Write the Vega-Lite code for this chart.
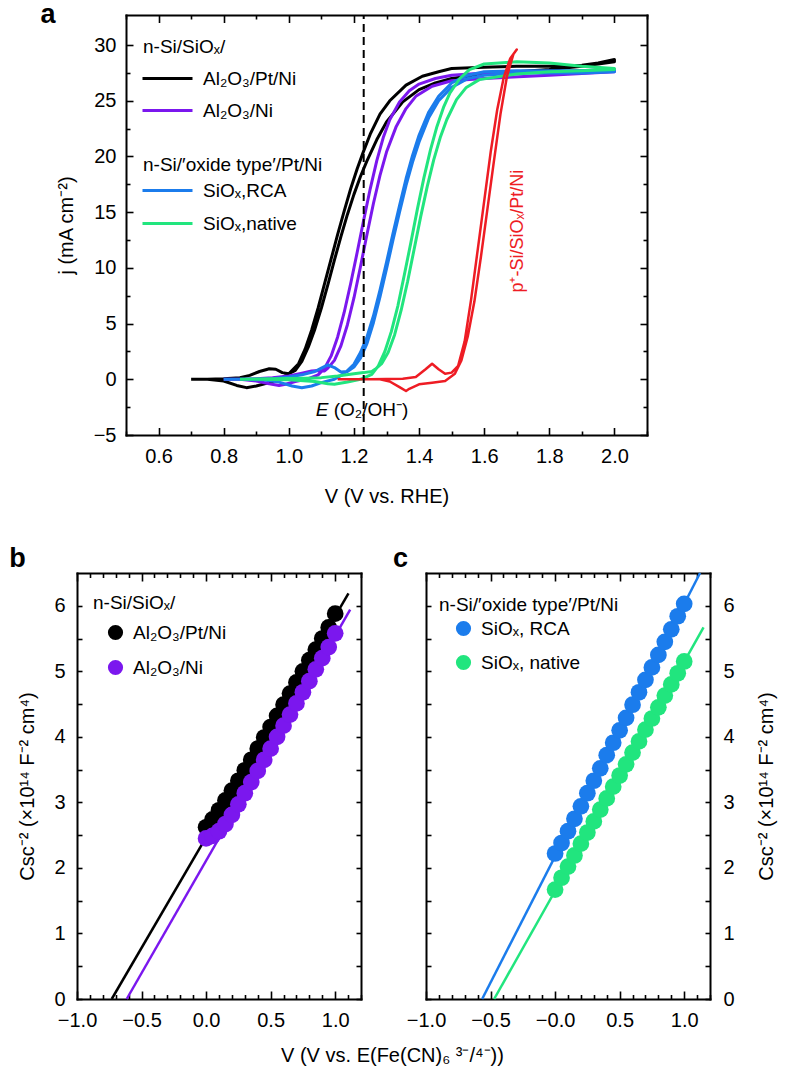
{
"$schema": "https://vega.github.io/schema/vega-lite/v6.json",
"width": 786, "height": 1079, "autosize": {"type": "none"}, "padding": 0, "background": "white",
"datasets": {
"cv": [
{"s":"Al₂O₃/Pt/Ni","o":0,"V":0.70,"j":0},{"s":"Al₂O₃/Pt/Ni","o":1,"V":0.75,"j":0},{"s":"Al₂O₃/Pt/Ni","o":2,"V":0.80,"j":0.05},{"s":"Al₂O₃/Pt/Ni","o":3,"V":0.85,"j":0.15},{"s":"Al₂O₃/Pt/Ni","o":4,"V":0.88,"j":0.35},{"s":"Al₂O₃/Pt/Ni","o":5,"V":0.91,"j":0.7},{"s":"Al₂O₃/Pt/Ni","o":6,"V":0.94,"j":0.95},{"s":"Al₂O₃/Pt/Ni","o":7,"V":0.96,"j":0.9},{"s":"Al₂O₃/Pt/Ni","o":8,"V":0.98,"j":0.6},{"s":"Al₂O₃/Pt/Ni","o":9,"V":1.00,"j":0.5},{"s":"Al₂O₃/Pt/Ni","o":10,"V":1.02,"j":0.8},{"s":"Al₂O₃/Pt/Ni","o":11,"V":1.04,"j":1.6},{"s":"Al₂O₃/Pt/Ni","o":12,"V":1.06,"j":2.9},{"s":"Al₂O₃/Pt/Ni","o":13,"V":1.08,"j":4.5},{"s":"Al₂O₃/Pt/Ni","o":14,"V":1.10,"j":6.4},{"s":"Al₂O₃/Pt/Ni","o":15,"V":1.12,"j":8.5},{"s":"Al₂O₃/Pt/Ni","o":16,"V":1.14,"j":10.7},{"s":"Al₂O₃/Pt/Ni","o":17,"V":1.16,"j":12.8},{"s":"Al₂O₃/Pt/Ni","o":18,"V":1.18,"j":14.8},{"s":"Al₂O₃/Pt/Ni","o":19,"V":1.20,"j":16.6},{"s":"Al₂O₃/Pt/Ni","o":20,"V":1.22,"j":18.2},{"s":"Al₂O₃/Pt/Ni","o":21,"V":1.24,"j":19.6},{"s":"Al₂O₃/Pt/Ni","o":22,"V":1.27,"j":21.5},{"s":"Al₂O₃/Pt/Ni","o":23,"V":1.30,"j":23.1},{"s":"Al₂O₃/Pt/Ni","o":24,"V":1.35,"j":24.9},{"s":"Al₂O₃/Pt/Ni","o":25,"V":1.40,"j":26.0},{"s":"Al₂O₃/Pt/Ni","o":26,"V":1.45,"j":26.6},{"s":"Al₂O₃/Pt/Ni","o":27,"V":1.50,"j":27.0},{"s":"Al₂O₃/Pt/Ni","o":28,"V":1.60,"j":27.4},{"s":"Al₂O₃/Pt/Ni","o":29,"V":1.70,"j":27.6},{"s":"Al₂O₃/Pt/Ni","o":30,"V":1.80,"j":27.8},{"s":"Al₂O₃/Pt/Ni","o":31,"V":1.90,"j":28.1},{"s":"Al₂O₃/Pt/Ni","o":32,"V":2.00,"j":28.5},
{"s":"Al₂O₃/Pt/Ni","o":33,"V":2.00,"j":28.7},{"s":"Al₂O₃/Pt/Ni","o":34,"V":1.95,"j":28.4},{"s":"Al₂O₃/Pt/Ni","o":35,"V":1.90,"j":28.2},{"s":"Al₂O₃/Pt/Ni","o":36,"V":1.80,"j":28.1},{"s":"Al₂O₃/Pt/Ni","o":37,"V":1.70,"j":28.1},{"s":"Al₂O₃/Pt/Ni","o":38,"V":1.60,"j":28.0},{"s":"Al₂O₃/Pt/Ni","o":39,"V":1.50,"j":27.9},{"s":"Al₂O₃/Pt/Ni","o":40,"V":1.46,"j":27.6},{"s":"Al₂O₃/Pt/Ni","o":41,"V":1.41,"j":27.2},{"s":"Al₂O₃/Pt/Ni","o":42,"V":1.36,"j":26.4},{"s":"Al₂O₃/Pt/Ni","o":43,"V":1.31,"j":25.0},{"s":"Al₂O₃/Pt/Ni","o":44,"V":1.28,"j":23.8},{"s":"Al₂O₃/Pt/Ni","o":45,"V":1.25,"j":22.0},{"s":"Al₂O₃/Pt/Ni","o":46,"V":1.23,"j":20.5},{"s":"Al₂O₃/Pt/Ni","o":47,"V":1.21,"j":18.9},{"s":"Al₂O₃/Pt/Ni","o":48,"V":1.19,"j":17.1},{"s":"Al₂O₃/Pt/Ni","o":49,"V":1.17,"j":15.1},{"s":"Al₂O₃/Pt/Ni","o":50,"V":1.15,"j":13.0},{"s":"Al₂O₃/Pt/Ni","o":51,"V":1.13,"j":10.8},{"s":"Al₂O₃/Pt/Ni","o":52,"V":1.11,"j":8.6},{"s":"Al₂O₃/Pt/Ni","o":53,"V":1.09,"j":6.4},{"s":"Al₂O₃/Pt/Ni","o":54,"V":1.07,"j":4.4},{"s":"Al₂O₃/Pt/Ni","o":55,"V":1.05,"j":2.7},{"s":"Al₂O₃/Pt/Ni","o":56,"V":1.03,"j":1.4},{"s":"Al₂O₃/Pt/Ni","o":57,"V":1.00,"j":0.5},{"s":"Al₂O₃/Pt/Ni","o":58,"V":0.97,"j":0.0},{"s":"Al₂O₃/Pt/Ni","o":59,"V":0.94,"j":-0.3},{"s":"Al₂O₃/Pt/Ni","o":60,"V":0.90,"j":-0.6},{"s":"Al₂O₃/Pt/Ni","o":61,"V":0.87,"j":-0.75},{"s":"Al₂O₃/Pt/Ni","o":62,"V":0.84,"j":-0.55},{"s":"Al₂O₃/Pt/Ni","o":63,"V":0.80,"j":-0.15},{"s":"Al₂O₃/Pt/Ni","o":64,"V":0.75,"j":0},{"s":"Al₂O₃/Pt/Ni","o":65,"V":0.70,"j":0},
{"s":"Al₂O₃/Ni","o":0,"V":0.80,"j":0},{"s":"Al₂O₃/Ni","o":1,"V":0.85,"j":0},{"s":"Al₂O₃/Ni","o":2,"V":0.90,"j":0.05},{"s":"Al₂O₃/Ni","o":3,"V":0.95,"j":0.15},{"s":"Al₂O₃/Ni","o":4,"V":1.00,"j":0.3},{"s":"Al₂O₃/Ni","o":5,"V":1.04,"j":0.55},{"s":"Al₂O₃/Ni","o":6,"V":1.07,"j":0.75},{"s":"Al₂O₃/Ni","o":7,"V":1.09,"j":0.8},{"s":"Al₂O₃/Ni","o":8,"V":1.11,"j":0.75},{"s":"Al₂O₃/Ni","o":9,"V":1.12,"j":1.0},{"s":"Al₂O₃/Ni","o":10,"V":1.14,"j":1.7},{"s":"Al₂O₃/Ni","o":11,"V":1.16,"j":3.0},{"s":"Al₂O₃/Ni","o":12,"V":1.18,"j":4.9},{"s":"Al₂O₃/Ni","o":13,"V":1.20,"j":7.3},{"s":"Al₂O₃/Ni","o":14,"V":1.22,"j":10.1},{"s":"Al₂O₃/Ni","o":15,"V":1.24,"j":13.0},{"s":"Al₂O₃/Ni","o":16,"V":1.26,"j":15.8},{"s":"Al₂O₃/Ni","o":17,"V":1.28,"j":18.3},{"s":"Al₂O₃/Ni","o":18,"V":1.30,"j":20.4},{"s":"Al₂O₃/Ni","o":19,"V":1.33,"j":22.7},{"s":"Al₂O₃/Ni","o":20,"V":1.36,"j":24.3},{"s":"Al₂O₃/Ni","o":21,"V":1.39,"j":25.4},{"s":"Al₂O₃/Ni","o":22,"V":1.44,"j":26.3},{"s":"Al₂O₃/Ni","o":23,"V":1.50,"j":26.8},{"s":"Al₂O₃/Ni","o":24,"V":1.60,"j":27.0},{"s":"Al₂O₃/Ni","o":25,"V":1.80,"j":27.3},{"s":"Al₂O₃/Ni","o":26,"V":2.00,"j":27.6},
{"s":"Al₂O₃/Ni","o":27,"V":2.00,"j":27.8},{"s":"Al₂O₃/Ni","o":28,"V":1.80,"j":27.6},{"s":"Al₂O₃/Ni","o":29,"V":1.60,"j":27.5},{"s":"Al₂O₃/Ni","o":30,"V":1.50,"j":27.3},{"s":"Al₂O₃/Ni","o":31,"V":1.45,"j":27.0},{"s":"Al₂O₃/Ni","o":32,"V":1.40,"j":26.5},{"s":"Al₂O₃/Ni","o":33,"V":1.37,"j":25.9},{"s":"Al₂O₃/Ni","o":34,"V":1.34,"j":24.9},{"s":"Al₂O₃/Ni","o":35,"V":1.31,"j":23.3},{"s":"Al₂O₃/Ni","o":36,"V":1.29,"j":21.7},{"s":"Al₂O₃/Ni","o":37,"V":1.27,"j":19.6},{"s":"Al₂O₃/Ni","o":38,"V":1.25,"j":17.1},{"s":"Al₂O₃/Ni","o":39,"V":1.23,"j":14.3},{"s":"Al₂O₃/Ni","o":40,"V":1.21,"j":11.4},{"s":"Al₂O₃/Ni","o":41,"V":1.19,"j":8.6},{"s":"Al₂O₃/Ni","o":42,"V":1.17,"j":6.0},{"s":"Al₂O₃/Ni","o":43,"V":1.15,"j":3.8},{"s":"Al₂O₃/Ni","o":44,"V":1.13,"j":2.1},{"s":"Al₂O₃/Ni","o":45,"V":1.11,"j":1.0},{"s":"Al₂O₃/Ni","o":46,"V":1.09,"j":0.4},{"s":"Al₂O₃/Ni","o":47,"V":1.06,"j":0.05},{"s":"Al₂O₃/Ni","o":48,"V":1.02,"j":-0.2},{"s":"Al₂O₃/Ni","o":49,"V":0.99,"j":-0.45},{"s":"Al₂O₃/Ni","o":50,"V":0.97,"j":-0.55},{"s":"Al₂O₃/Ni","o":51,"V":0.94,"j":-0.4},{"s":"Al₂O₃/Ni","o":52,"V":0.90,"j":-0.15},{"s":"Al₂O₃/Ni","o":53,"V":0.85,"j":0},{"s":"Al₂O₃/Ni","o":54,"V":0.80,"j":0},
{"s":"SiOₓ,RCA","o":0,"V":0.80,"j":0},{"s":"SiOₓ,RCA","o":1,"V":0.90,"j":0},{"s":"SiOₓ,RCA","o":2,"V":0.95,"j":0.05},{"s":"SiOₓ,RCA","o":3,"V":1.00,"j":0.2},{"s":"SiOₓ,RCA","o":4,"V":1.04,"j":0.4},{"s":"SiOₓ,RCA","o":5,"V":1.08,"j":0.7},{"s":"SiOₓ,RCA","o":6,"V":1.10,"j":1.0},{"s":"SiOₓ,RCA","o":7,"V":1.12,"j":1.3},{"s":"SiOₓ,RCA","o":8,"V":1.14,"j":1.05},{"s":"SiOₓ,RCA","o":9,"V":1.16,"j":0.65},{"s":"SiOₓ,RCA","o":10,"V":1.18,"j":0.7},{"s":"SiOₓ,RCA","o":11,"V":1.20,"j":1.1},{"s":"SiOₓ,RCA","o":12,"V":1.22,"j":1.9},{"s":"SiOₓ,RCA","o":13,"V":1.24,"j":3.2},{"s":"SiOₓ,RCA","o":14,"V":1.26,"j":5.1},{"s":"SiOₓ,RCA","o":15,"V":1.28,"j":7.4},{"s":"SiOₓ,RCA","o":16,"V":1.30,"j":9.9},{"s":"SiOₓ,RCA","o":17,"V":1.32,"j":12.5},{"s":"SiOₓ,RCA","o":18,"V":1.34,"j":15.0},{"s":"SiOₓ,RCA","o":19,"V":1.36,"j":17.4},{"s":"SiOₓ,RCA","o":20,"V":1.38,"j":19.5},{"s":"SiOₓ,RCA","o":21,"V":1.40,"j":21.3},{"s":"SiOₓ,RCA","o":22,"V":1.43,"j":23.5},{"s":"SiOₓ,RCA","o":23,"V":1.46,"j":25.0},{"s":"SiOₓ,RCA","o":24,"V":1.50,"j":26.2},{"s":"SiOₓ,RCA","o":25,"V":1.55,"j":27.0},{"s":"SiOₓ,RCA","o":26,"V":1.60,"j":27.3},{"s":"SiOₓ,RCA","o":27,"V":1.70,"j":27.5},{"s":"SiOₓ,RCA","o":28,"V":1.80,"j":27.5},{"s":"SiOₓ,RCA","o":29,"V":1.90,"j":27.5},{"s":"SiOₓ,RCA","o":30,"V":2.00,"j":27.6},
{"s":"SiOₓ,RCA","o":31,"V":2.00,"j":27.8},{"s":"SiOₓ,RCA","o":32,"V":1.90,"j":27.7},{"s":"SiOₓ,RCA","o":33,"V":1.80,"j":27.7},{"s":"SiOₓ,RCA","o":34,"V":1.70,"j":27.7},{"s":"SiOₓ,RCA","o":35,"V":1.60,"j":27.6},{"s":"SiOₓ,RCA","o":36,"V":1.55,"j":27.3},{"s":"SiOₓ,RCA","o":37,"V":1.50,"j":26.6},{"s":"SiOₓ,RCA","o":38,"V":1.46,"j":25.4},{"s":"SiOₓ,RCA","o":39,"V":1.43,"j":24.0},{"s":"SiOₓ,RCA","o":40,"V":1.40,"j":21.9},{"s":"SiOₓ,RCA","o":41,"V":1.38,"j":20.1},{"s":"SiOₓ,RCA","o":42,"V":1.36,"j":18.0},{"s":"SiOₓ,RCA","o":43,"V":1.34,"j":15.6},{"s":"SiOₓ,RCA","o":44,"V":1.32,"j":13.1},{"s":"SiOₓ,RCA","o":45,"V":1.30,"j":10.5},{"s":"SiOₓ,RCA","o":46,"V":1.28,"j":8.0},{"s":"SiOₓ,RCA","o":47,"V":1.26,"j":5.7},{"s":"SiOₓ,RCA","o":48,"V":1.24,"j":3.8},{"s":"SiOₓ,RCA","o":49,"V":1.22,"j":2.4},{"s":"SiOₓ,RCA","o":50,"V":1.20,"j":1.35},{"s":"SiOₓ,RCA","o":51,"V":1.17,"j":0.5},{"s":"SiOₓ,RCA","o":52,"V":1.14,"j":0},{"s":"SiOₓ,RCA","o":53,"V":1.10,"j":-0.3},{"s":"SiOₓ,RCA","o":54,"V":1.07,"j":-0.6},{"s":"SiOₓ,RCA","o":55,"V":1.04,"j":-0.75},{"s":"SiOₓ,RCA","o":56,"V":1.01,"j":-0.6},{"s":"SiOₓ,RCA","o":57,"V":0.97,"j":-0.25},{"s":"SiOₓ,RCA","o":58,"V":0.92,"j":-0.05},{"s":"SiOₓ,RCA","o":59,"V":0.85,"j":0},{"s":"SiOₓ,RCA","o":60,"V":0.80,"j":0},
{"s":"SiOₓ,native","o":0,"V":0.85,"j":0},{"s":"SiOₓ,native","o":1,"V":0.95,"j":0.05},{"s":"SiOₓ,native","o":2,"V":1.05,"j":0.1},{"s":"SiOₓ,native","o":3,"V":1.10,"j":0.15},{"s":"SiOₓ,native","o":4,"V":1.15,"j":0.3},{"s":"SiOₓ,native","o":5,"V":1.20,"j":0.5},{"s":"SiOₓ,native","o":6,"V":1.23,"j":0.6},{"s":"SiOₓ,native","o":7,"V":1.255,"j":0.7},{"s":"SiOₓ,native","o":8,"V":1.265,"j":0.9},{"s":"SiOₓ,native","o":9,"V":1.285,"j":1.4},{"s":"SiOₓ,native","o":10,"V":1.305,"j":2.4},{"s":"SiOₓ,native","o":11,"V":1.325,"j":4.0},{"s":"SiOₓ,native","o":12,"V":1.345,"j":6.2},{"s":"SiOₓ,native","o":13,"V":1.365,"j":8.8},{"s":"SiOₓ,native","o":14,"V":1.385,"j":11.7},{"s":"SiOₓ,native","o":15,"V":1.405,"j":14.6},{"s":"SiOₓ,native","o":16,"V":1.425,"j":17.3},{"s":"SiOₓ,native","o":17,"V":1.445,"j":19.7},{"s":"SiOₓ,native","o":18,"V":1.465,"j":21.7},{"s":"SiOₓ,native","o":19,"V":1.485,"j":23.3},{"s":"SiOₓ,native","o":20,"V":1.515,"j":25.1},{"s":"SiOₓ,native","o":21,"V":1.545,"j":26.2},{"s":"SiOₓ,native","o":22,"V":1.585,"j":26.9},{"s":"SiOₓ,native","o":23,"V":1.70,"j":27.4},{"s":"SiOₓ,native","o":24,"V":1.80,"j":27.6},{"s":"SiOₓ,native","o":25,"V":1.90,"j":27.7},{"s":"SiOₓ,native","o":26,"V":2.00,"j":27.8},
{"s":"SiOₓ,native","o":27,"V":2.00,"j":27.9},{"s":"SiOₓ,native","o":28,"V":1.90,"j":28.1},{"s":"SiOₓ,native","o":29,"V":1.80,"j":28.4},{"s":"SiOₓ,native","o":30,"V":1.70,"j":28.5},{"s":"SiOₓ,native","o":31,"V":1.60,"j":28.3},{"s":"SiOₓ,native","o":32,"V":1.555,"j":27.8},{"s":"SiOₓ,native","o":33,"V":1.525,"j":27.0},{"s":"SiOₓ,native","o":34,"V":1.495,"j":25.7},{"s":"SiOₓ,native","o":35,"V":1.475,"j":24.4},{"s":"SiOₓ,native","o":36,"V":1.455,"j":22.7},{"s":"SiOₓ,native","o":37,"V":1.435,"j":20.6},{"s":"SiOₓ,native","o":38,"V":1.415,"j":18.1},{"s":"SiOₓ,native","o":39,"V":1.395,"j":15.3},{"s":"SiOₓ,native","o":40,"V":1.375,"j":12.3},{"s":"SiOₓ,native","o":41,"V":1.355,"j":9.4},{"s":"SiOₓ,native","o":42,"V":1.335,"j":6.6},{"s":"SiOₓ,native","o":43,"V":1.315,"j":4.3},{"s":"SiOₓ,native","o":44,"V":1.295,"j":2.5},{"s":"SiOₓ,native","o":45,"V":1.275,"j":1.2},{"s":"SiOₓ,native","o":46,"V":1.255,"j":0.45},{"s":"SiOₓ,native","o":47,"V":1.22,"j":0},{"s":"SiOₓ,native","o":48,"V":1.18,"j":-0.25},{"s":"SiOₓ,native","o":49,"V":1.14,"j":-0.45},{"s":"SiOₓ,native","o":50,"V":1.12,"j":-0.4},{"s":"SiOₓ,native","o":51,"V":1.08,"j":-0.2},{"s":"SiOₓ,native","o":52,"V":1.00,"j":-0.05},{"s":"SiOₓ,native","o":53,"V":0.90,"j":0},{"s":"SiOₓ,native","o":54,"V":0.85,"j":0},
{"s":"p⁺-Si/SiOₓ/Pt/Ni","o":0,"V":1.15,"j":0},{"s":"p⁺-Si/SiOₓ/Pt/Ni","o":1,"V":1.25,"j":0},{"s":"p⁺-Si/SiOₓ/Pt/Ni","o":2,"V":1.35,"j":0.05},{"s":"p⁺-Si/SiOₓ/Pt/Ni","o":3,"V":1.39,"j":0.2},{"s":"p⁺-Si/SiOₓ/Pt/Ni","o":4,"V":1.42,"j":0.9},{"s":"p⁺-Si/SiOₓ/Pt/Ni","o":5,"V":1.44,"j":1.4},{"s":"p⁺-Si/SiOₓ/Pt/Ni","o":6,"V":1.46,"j":0.9},{"s":"p⁺-Si/SiOₓ/Pt/Ni","o":7,"V":1.48,"j":0.5},{"s":"p⁺-Si/SiOₓ/Pt/Ni","o":8,"V":1.50,"j":0.6},{"s":"p⁺-Si/SiOₓ/Pt/Ni","o":9,"V":1.52,"j":1.2},{"s":"p⁺-Si/SiOₓ/Pt/Ni","o":10,"V":1.54,"j":3.4},{"s":"p⁺-Si/SiOₓ/Pt/Ni","o":11,"V":1.56,"j":7.2},{"s":"p⁺-Si/SiOₓ/Pt/Ni","o":12,"V":1.58,"j":11.6},{"s":"p⁺-Si/SiOₓ/Pt/Ni","o":13,"V":1.60,"j":16.0},{"s":"p⁺-Si/SiOₓ/Pt/Ni","o":14,"V":1.62,"j":20.4},{"s":"p⁺-Si/SiOₓ/Pt/Ni","o":15,"V":1.64,"j":24.2},{"s":"p⁺-Si/SiOₓ/Pt/Ni","o":16,"V":1.66,"j":27.1},{"s":"p⁺-Si/SiOₓ/Pt/Ni","o":17,"V":1.68,"j":28.8},{"s":"p⁺-Si/SiOₓ/Pt/Ni","o":18,"V":1.695,"j":29.4},{"s":"p⁺-Si/SiOₓ/Pt/Ni","o":19,"V":1.70,"j":29.6},
{"s":"p⁺-Si/SiOₓ/Pt/Ni","o":20,"V":1.69,"j":29.2},{"s":"p⁺-Si/SiOₓ/Pt/Ni","o":21,"V":1.67,"j":27.2},{"s":"p⁺-Si/SiOₓ/Pt/Ni","o":22,"V":1.65,"j":23.8},{"s":"p⁺-Si/SiOₓ/Pt/Ni","o":23,"V":1.63,"j":19.6},{"s":"p⁺-Si/SiOₓ/Pt/Ni","o":24,"V":1.61,"j":15.3},{"s":"p⁺-Si/SiOₓ/Pt/Ni","o":25,"V":1.59,"j":11.0},{"s":"p⁺-Si/SiOₓ/Pt/Ni","o":26,"V":1.57,"j":7.0},{"s":"p⁺-Si/SiOₓ/Pt/Ni","o":27,"V":1.55,"j":3.9},{"s":"p⁺-Si/SiOₓ/Pt/Ni","o":28,"V":1.53,"j":1.7},{"s":"p⁺-Si/SiOₓ/Pt/Ni","o":29,"V":1.51,"j":0.5},{"s":"p⁺-Si/SiOₓ/Pt/Ni","o":30,"V":1.48,"j":-0.15},{"s":"p⁺-Si/SiOₓ/Pt/Ni","o":31,"V":1.44,"j":-0.3},{"s":"p⁺-Si/SiOₓ/Pt/Ni","o":32,"V":1.40,"j":-0.45},{"s":"p⁺-Si/SiOₓ/Pt/Ni","o":33,"V":1.37,"j":-0.85},{"s":"p⁺-Si/SiOₓ/Pt/Ni","o":34,"V":1.36,"j":-1.05},{"s":"p⁺-Si/SiOₓ/Pt/Ni","o":35,"V":1.34,"j":-0.7},{"s":"p⁺-Si/SiOₓ/Pt/Ni","o":36,"V":1.31,"j":-0.2},{"s":"p⁺-Si/SiOₓ/Pt/Ni","o":37,"V":1.28,"j":0},{"s":"p⁺-Si/SiOₓ/Pt/Ni","o":38,"V":1.20,"j":0},{"s":"p⁺-Si/SiOₓ/Pt/Ni","o":39,"V":1.15,"j":0}
],
"ms": [
{"s":"Al₂O₃/Pt/Ni","V":0.00,"C":2.62},{"s":"Al₂O₃/Pt/Ni","V":0.05,"C":2.74},{"s":"Al₂O₃/Pt/Ni","V":0.10,"C":2.88},{"s":"Al₂O₃/Pt/Ni","V":0.15,"C":3.03},{"s":"Al₂O₃/Pt/Ni","V":0.20,"C":3.18},{"s":"Al₂O₃/Pt/Ni","V":0.25,"C":3.33},{"s":"Al₂O₃/Pt/Ni","V":0.30,"C":3.49},{"s":"Al₂O₃/Pt/Ni","V":0.35,"C":3.65},{"s":"Al₂O₃/Pt/Ni","V":0.40,"C":3.82},{"s":"Al₂O₃/Pt/Ni","V":0.45,"C":3.99},{"s":"Al₂O₃/Pt/Ni","V":0.50,"C":4.15},{"s":"Al₂O₃/Pt/Ni","V":0.55,"C":4.32},{"s":"Al₂O₃/Pt/Ni","V":0.60,"C":4.49},{"s":"Al₂O₃/Pt/Ni","V":0.65,"C":4.66},{"s":"Al₂O₃/Pt/Ni","V":0.70,"C":4.83},{"s":"Al₂O₃/Pt/Ni","V":0.75,"C":5.00},{"s":"Al₂O₃/Pt/Ni","V":0.80,"C":5.17},{"s":"Al₂O₃/Pt/Ni","V":0.85,"C":5.33},{"s":"Al₂O₃/Pt/Ni","V":0.90,"C":5.50},{"s":"Al₂O₃/Pt/Ni","V":0.95,"C":5.67},{"s":"Al₂O₃/Pt/Ni","V":1.00,"C":5.88},
{"s":"Al₂O₃/Ni","V":0.00,"C":2.45},{"s":"Al₂O₃/Ni","V":0.05,"C":2.49},{"s":"Al₂O₃/Ni","V":0.10,"C":2.56},{"s":"Al₂O₃/Ni","V":0.15,"C":2.67},{"s":"Al₂O₃/Ni","V":0.20,"C":2.81},{"s":"Al₂O₃/Ni","V":0.25,"C":2.97},{"s":"Al₂O₃/Ni","V":0.30,"C":3.14},{"s":"Al₂O₃/Ni","V":0.35,"C":3.31},{"s":"Al₂O₃/Ni","V":0.40,"C":3.48},{"s":"Al₂O₃/Ni","V":0.45,"C":3.65},{"s":"Al₂O₃/Ni","V":0.50,"C":3.82},{"s":"Al₂O₃/Ni","V":0.55,"C":4.00},{"s":"Al₂O₃/Ni","V":0.60,"C":4.17},{"s":"Al₂O₃/Ni","V":0.65,"C":4.34},{"s":"Al₂O₃/Ni","V":0.70,"C":4.51},{"s":"Al₂O₃/Ni","V":0.75,"C":4.68},{"s":"Al₂O₃/Ni","V":0.80,"C":4.85},{"s":"Al₂O₃/Ni","V":0.85,"C":5.03},{"s":"Al₂O₃/Ni","V":0.90,"C":5.20},{"s":"Al₂O₃/Ni","V":0.95,"C":5.37},{"s":"Al₂O₃/Ni","V":1.00,"C":5.58},
{"s":"SiOₓ, RCA","V":0.00,"C":2.22},{"s":"SiOₓ, RCA","V":0.05,"C":2.38},{"s":"SiOₓ, RCA","V":0.10,"C":2.56},{"s":"SiOₓ, RCA","V":0.15,"C":2.75},{"s":"SiOₓ, RCA","V":0.20,"C":2.94},{"s":"SiOₓ, RCA","V":0.25,"C":3.14},{"s":"SiOₓ, RCA","V":0.30,"C":3.33},{"s":"SiOₓ, RCA","V":0.35,"C":3.52},{"s":"SiOₓ, RCA","V":0.40,"C":3.72},{"s":"SiOₓ, RCA","V":0.45,"C":3.91},{"s":"SiOₓ, RCA","V":0.50,"C":4.10},{"s":"SiOₓ, RCA","V":0.55,"C":4.29},{"s":"SiOₓ, RCA","V":0.60,"C":4.49},{"s":"SiOₓ, RCA","V":0.65,"C":4.68},{"s":"SiOₓ, RCA","V":0.70,"C":4.87},{"s":"SiOₓ, RCA","V":0.75,"C":5.06},{"s":"SiOₓ, RCA","V":0.80,"C":5.25},{"s":"SiOₓ, RCA","V":0.85,"C":5.45},{"s":"SiOₓ, RCA","V":0.90,"C":5.64},{"s":"SiOₓ, RCA","V":0.95,"C":5.84},{"s":"SiOₓ, RCA","V":1.00,"C":6.03},
{"s":"SiOₓ, native","V":0.00,"C":1.67},{"s":"SiOₓ, native","V":0.05,"C":1.85},{"s":"SiOₓ, native","V":0.10,"C":2.02},{"s":"SiOₓ, native","V":0.15,"C":2.19},{"s":"SiOₓ, native","V":0.20,"C":2.37},{"s":"SiOₓ, native","V":0.25,"C":2.54},{"s":"SiOₓ, native","V":0.30,"C":2.71},{"s":"SiOₓ, native","V":0.35,"C":2.89},{"s":"SiOₓ, native","V":0.40,"C":3.06},{"s":"SiOₓ, native","V":0.45,"C":3.24},{"s":"SiOₓ, native","V":0.50,"C":3.41},{"s":"SiOₓ, native","V":0.55,"C":3.58},{"s":"SiOₓ, native","V":0.60,"C":3.76},{"s":"SiOₓ, native","V":0.65,"C":3.93},{"s":"SiOₓ, native","V":0.70,"C":4.11},{"s":"SiOₓ, native","V":0.75,"C":4.28},{"s":"SiOₓ, native","V":0.80,"C":4.45},{"s":"SiOₓ, native","V":0.85,"C":4.63},{"s":"SiOₓ, native","V":0.90,"C":4.80},{"s":"SiOₓ, native","V":0.95,"C":4.97},{"s":"SiOₓ, native","V":1.00,"C":5.15}
],
"fits": [
{"s":"Al₂O₃/Pt/Ni","V":-0.731,"C":0},{"s":"Al₂O₃/Pt/Ni","V":1.103,"C":6.19},
{"s":"Al₂O₃/Ni","V":-0.615,"C":0},{"s":"Al₂O₃/Ni","V":1.116,"C":5.94},
{"s":"SiOₓ, RCA","V":-0.565,"C":0},{"s":"SiOₓ, RCA","V":1.123,"C":6.5},
{"s":"SiOₓ, native","V":-0.472,"C":0},{"s":"SiOₓ, native","V":1.15,"C":5.67}
],
"ref": [{"name":"E(O2/OH-)","V":1.23}]
},
"layer": [
{
"data": {"name":"cv"},
"transform": [{"filter": {"field":"s","oneOf":["Al₂O₃/Pt/Ni","Al₂O₃/Ni"]}}],
"mark": {"type":"line","strokeWidth":3,"strokeJoin":"round"},
"encoding": {
"x": {"field":"V","type":"quantitative","scale":{"domain":[0.5,2.1],"range":[126,647],"nice":false,"zero":false},
"axis":{"orient":"bottom","offset":-644,"values":[0.5,0.6,0.7,0.8,0.9,1.0,1.1,1.2,1.3,1.4,1.5,1.6,1.7,1.8,1.9,2.0,2.1],"labelExpr":"round(datum.value*10) % 2 == 0 ? format(datum.value, '.1f') : ''","tickSize":{"condition":{"test":"round(datum.value*10) % 2 == 0","value":-7.5},"value":-4},"labelPadding":19,"title":"V (V vs. RHE)","titleX":386.5,"titleY":67,"titleBaseline":"alphabetic","titleAlign":"center"}},
"y": {"field":"j","type":"quantitative","scale":{"domain":[-5,32.7],"range":[435,15],"nice":false,"zero":false},
"axis":{"orient":"left","offset":-126,"values":[-5,-2.5,0,2.5,5,7.5,10,12.5,15,17.5,20,22.5,25,27.5,30],"labelExpr":"datum.value % 5 == 0 ? format(datum.value, 'd') : ''","tickSize":{"condition":{"test":"datum.value % 5 == 0","value":-7},"value":-4},"labelPadding":17,"title":"j (mA cm⁻²)","titleX":-54,"titleY":225,"titleAngle":270,"titleBaseline":"alphabetic","titleAlign":"center"}},
"color": {"field":"s","type":"nominal","scale":{"domain":["Al₂O₃/Pt/Ni","Al₂O₃/Ni"],"range":["#000000","#7B17EE"]},
"legend":{"orient":"none","legendX":143,"legendY":38,"title":"n-Si/SiOₓ/","symbolType":"M-2.5,0L2.5,0","symbolSize":400,"symbolStrokeWidth":3,"symbolOffset":13,"labelOffset":24,"rowPadding":10,"titlePadding":10}},
"order": {"field":"o","type":"quantitative"}
}
},
{
"data": {"name":"cv"},
"transform": [{"filter": {"field":"s","oneOf":["SiOₓ,RCA","SiOₓ,native"]}}],
"mark": {"type":"line","strokeWidth":3,"strokeJoin":"round"},
"encoding": {
"x": {"field":"V","type":"quantitative","scale":{"domain":[0.5,2.1],"range":[126,647],"nice":false,"zero":false},
"axis":{"orient":"top","offset":-15,"values":[0.5,0.6,0.7,0.8,0.9,1.0,1.1,1.2,1.3,1.4,1.5,1.6,1.7,1.8,1.9,2.0,2.1],"labels":false,"tickSize":{"condition":{"test":"round(datum.value*10) % 2 == 0","value":-7.5},"value":-4},"title":"a","titleFontSize":27,"titleFontWeight":"bold","titleX":47.5,"titleY":7,"titleBaseline":"alphabetic","titleAlign":"center"}},
"y": {"field":"j","type":"quantitative","scale":{"domain":[-5,32.7],"range":[435,15],"nice":false,"zero":false},
"axis":{"orient":"right","offset":-139,"values":[-5,-2.5,0,2.5,5,7.5,10,12.5,15,17.5,20,22.5,25,27.5,30],"labels":false,"tickSize":{"condition":{"test":"datum.value % 5 == 0","value":-7},"value":-4},"title":null}},
"color": {"field":"s","type":"nominal","scale":{"domain":["SiOₓ,RCA","SiOₓ,native"],"range":["#1B7CEC","#21E57E"]},
"legend":{"orient":"none","legendX":143,"legendY":156,"title":"n-Si/′oxide type′/Pt/Ni","symbolType":"M-2.5,0L2.5,0","symbolSize":400,"symbolStrokeWidth":3,"symbolOffset":13,"labelOffset":24,"rowPadding":11,"titlePadding":4}},
"order": {"field":"o","type":"quantitative"}
}
},
{
"data": {"name":"cv"},
"transform": [{"filter": {"field":"s","equal":"p⁺-Si/SiOₓ/Pt/Ni"}}],
"mark": {"type":"line","strokeWidth":2.5,"strokeJoin":"round","color":"#EE1C24"},
"encoding": {
"x": {"field":"V","type":"quantitative","scale":{"domain":[0.5,2.1],"range":[126,647],"nice":false,"zero":false},"axis":null},
"y": {"field":"j","type":"quantitative","scale":{"domain":[-5,32.7],"range":[435,15],"nice":false,"zero":false},"axis":null},
"order": {"field":"o","type":"quantitative"}
}
},
{
"data": {"name":"ref"},
"mark": {"type":"rule","strokeDash":[8,5],"strokeWidth":2,"color":"#000000"},
"encoding": {
"x": {"field":"V","type":"quantitative","scale":{"domain":[0.5,2.1],"range":[126,647],"nice":false,"zero":false},"axis":null},
"y": {"datum":-5,"type":"quantitative","scale":{"domain":[-5,32.7],"range":[435,15],"nice":false,"zero":false},"axis":null},
"y2": {"datum":32.7}
}
},
{
"data": {"name":"ref"},
"mark": {"type":"text","text":"E","fontSize":19,"fontStyle":"italic","align":"left","baseline":"alphabetic","dx":-48,"color":"#000000"},
"encoding": {
"x": {"field":"V","type":"quantitative","scale":{"domain":[0.5,2.1],"range":[126,647],"nice":false,"zero":false},"axis":null},
"y": {"datum":-3.3,"type":"quantitative","scale":{"domain":[-5,32.7],"range":[435,15],"nice":false,"zero":false},"axis":null}
}
},
{
"data": {"name":"ref"},
"mark": {"type":"text","text":"(O₂/OH⁻)","fontSize":19,"align":"left","baseline":"alphabetic","dx":-30,"color":"#000000"},
"encoding": {
"x": {"field":"V","type":"quantitative","scale":{"domain":[0.5,2.1],"range":[126,647],"nice":false,"zero":false},"axis":null},
"y": {"datum":-3.3,"type":"quantitative","scale":{"domain":[-5,32.7],"range":[435,15],"nice":false,"zero":false},"axis":null}
}
},
{
"data": {"name":"ref"},
"mark": {"type":"text","text":"p⁺-Si/SiOₓ/Pt/Ni","fontSize":18,"align":"center","baseline":"alphabetic","angle":270,"color":"#EE1C24"},
"encoding": {
"x": {"datum":1.719,"type":"quantitative","scale":{"domain":[0.5,2.1],"range":[126,647],"nice":false,"zero":false},"axis":null},
"y": {"datum":13.3,"type":"quantitative","scale":{"domain":[-5,32.7],"range":[435,15],"nice":false,"zero":false},"axis":null}
}
},
{
"data": {"name":"fits"},
"transform": [{"filter": {"field":"s","oneOf":["Al₂O₃/Pt/Ni","Al₂O₃/Ni"]}}],
"mark": {"type":"line","strokeWidth":2.5},
"encoding": {
"x": {"field":"V","type":"quantitative","scale":{"domain":[-1,1.2],"range":[77,361],"nice":false,"zero":false},
"axis":{"orient":"top","offset":-573,"values":[-1,-0.9,-0.8,-0.7,-0.6,-0.5,-0.4,-0.3,-0.2,-0.1,0,0.1,0.2,0.3,0.4,0.5,0.6,0.7,0.8,0.9,1.0,1.1,1.2],"labels":false,"tickSize":{"condition":{"test":"round(datum.value*10) % 5 == 0","value":-8},"value":-4.5},"title":"b","titleFontSize":27,"titleFontWeight":"bold","titleX":17,"titleY":-7,"titleBaseline":"alphabetic","titleAlign":"center"}},
"y": {"field":"C","type":"quantitative","scale":{"domain":[0,6.5],"range":[999,573],"nice":false,"zero":false},
"axis":{"orient":"right","offset":-425,"values":[0,0.5,1,1.5,2,2.5,3,3.5,4,4.5,5,5.5,6],"labels":false,"tickSize":-5,"title":null}},
"color": {"field":"s","type":"nominal","scale":{"domain":["Al₂O₃/Pt/Ni","Al₂O₃/Ni"],"range":["#000000","#7B17EE"]},"legend":null}
}
},
{
"data": {"name":"ms"},
"transform": [{"filter": {"field":"s","oneOf":["Al₂O₃/Pt/Ni","Al₂O₃/Ni"]}}],
"mark": {"type":"circle","size":280,"opacity":1},
"encoding": {
"x": {"field":"V","type":"quantitative","scale":{"domain":[-1,1.2],"range":[77,361],"nice":false,"zero":false},
"axis":{"orient":"bottom","offset":-80,"values":[-1,-0.9,-0.8,-0.7,-0.6,-0.5,-0.4,-0.3,-0.2,-0.1,0,0.1,0.2,0.3,0.4,0.5,0.6,0.7,0.8,0.9,1.0,1.1,1.2],"labelExpr":"round(datum.value*10) % 5 == 0 ? format(datum.value, '.1f') : ''","tickSize":{"condition":{"test":"round(datum.value*10) % 5 == 0","value":-8},"value":-4.5},"labelPadding":19.5,"title":"V (V vs. E(Fe(CN)₆ ³⁻/⁴⁻))","titleX":392,"titleY":62,"titleBaseline":"alphabetic","titleAlign":"center"}},
"y": {"field":"C","type":"quantitative","scale":{"domain":[0,6.5],"range":[999,573],"nice":false,"zero":false},
"axis":{"orient":"left","offset":-77,"values":[0,0.5,1,1.5,2,2.5,3,3.5,4,4.5,5,5.5,6],"labelExpr":"datum.value % 1 == 0 ? format(datum.value, 'd') : ''","tickSize":-5,"labelPadding":17,"title":"Csc⁻² (×10¹⁴ F⁻² cm⁴)","titleX":-44,"titleY":786,"titleAngle":270,"titleBaseline":"alphabetic","titleAlign":"center"}},
"color": {"field":"s","type":"nominal","scale":{"domain":["Al₂O₃/Pt/Ni","Al₂O₃/Ni"],"range":["#000000","#7B17EE"]},
"legend":{"orient":"none","legendX":93,"legendY":594,"title":"n-Si/SiOₓ/","symbolType":"circle","symbolSize":230,"symbolStrokeWidth":0,"symbolOffset":13,"labelOffset":8,"rowPadding":15,"titlePadding":10}}
}
},
{
"data": {"name":"fits"},
"transform": [{"filter": {"field":"s","oneOf":["SiOₓ, RCA","SiOₓ, native"]}}],
"mark": {"type":"line","strokeWidth":2.5},
"encoding": {
"x": {"field":"V","type":"quantitative","scale":{"domain":[-1,1.2],"range":[426,710],"nice":false,"zero":false},
"axis":{"orient":"top","offset":-573,"values":[-1,-0.9,-0.8,-0.7,-0.6,-0.5,-0.4,-0.3,-0.2,-0.1,0,0.1,0.2,0.3,0.4,0.5,0.6,0.7,0.8,0.9,1.0,1.1,1.2],"labels":false,"tickSize":{"condition":{"test":"round(datum.value*10) % 5 == 0","value":-8},"value":-4.5},"title":"c","titleFontSize":27,"titleFontWeight":"bold","titleX":400,"titleY":-7,"titleBaseline":"alphabetic","titleAlign":"center"}},
"y": {"field":"C","type":"quantitative","scale":{"domain":[0,6.5],"range":[999,573],"nice":false,"zero":false},
"axis":{"orient":"left","offset":-426,"values":[0,0.5,1,1.5,2,2.5,3,3.5,4,4.5,5,5.5,6],"labels":false,"tickSize":-5,"title":null}},
"color": {"field":"s","type":"nominal","scale":{"domain":["SiOₓ, RCA","SiOₓ, native"],"range":["#1B7CEC","#21E57E"]},"legend":null}
}
},
{
"data": {"name":"ms"},
"transform": [{"filter": {"field":"s","oneOf":["SiOₓ, RCA","SiOₓ, native"]}}],
"mark": {"type":"circle","size":280,"opacity":1},
"encoding": {
"x": {"field":"V","type":"quantitative","scale":{"domain":[-1,1.2],"range":[426,710],"nice":false,"zero":false},
"axis":{"orient":"bottom","offset":-80,"values":[-1,-0.9,-0.8,-0.7,-0.6,-0.5,-0.4,-0.3,-0.2,-0.1,0,0.1,0.2,0.3,0.4,0.5,0.6,0.7,0.8,0.9,1.0,1.1,1.2],"labelExpr":"round(datum.value*10) % 5 == 0 ? (round(datum.value*10) == 0 ? '−0.0' : format(datum.value, '.1f')) : ''","tickSize":{"condition":{"test":"round(datum.value*10) % 5 == 0","value":-8},"value":-4.5},"labelPadding":19.5,"title":null}},
"y": {"field":"C","type":"quantitative","scale":{"domain":[0,6.5],"range":[999,573],"nice":false,"zero":false},
"axis":{"orient":"right","offset":-76,"values":[0,0.5,1,1.5,2,2.5,3,3.5,4,4.5,5,5.5,6],"labelExpr":"datum.value % 1 == 0 ? format(datum.value, 'd') : ''","tickSize":-5,"labelPadding":18,"title":"Csc⁻² (×10¹⁴ F⁻² cm⁴)","titleX":62,"titleY":786,"titleAngle":270,"titleBaseline":"alphabetic","titleAlign":"center"}},
"color": {"field":"s","type":"nominal","scale":{"domain":["SiOₓ, RCA","SiOₓ, native"],"range":["#1B7CEC","#21E57E"]},
"legend":{"orient":"none","legendX":439,"legendY":596,"title":"n-Si/′oxide type′/Pt/Ni","symbolType":"circle","symbolSize":230,"symbolStrokeWidth":0,"symbolOffset":15,"labelOffset":8,"rowPadding":14,"titlePadding":4}}
}
}
],
"resolve": {"scale":{"x":"independent","y":"independent","color":"independent"},"axis":{"x":"independent","y":"independent"},"legend":{"color":"independent"}},
"config": {
"font": "Liberation Sans",
"view": {"stroke": null},
"axis": {"grid": false, "domainColor": "#000000", "domainWidth": 2, "domainCap": "square", "tickColor": "#000000", "tickWidth": 1.6, "labelColor": "#000000", "labelFontSize": 20, "titleColor": "#000000", "titleFontSize": 20, "titleFontWeight": "normal", "labelFlush": false, "labelOverlap": false},
"legend": {"titleFontSize": 19, "labelFontSize": 19, "titleFontWeight": "normal", "titleColor": "#000000", "labelColor": "#000000", "titleLimit": 400, "labelLimit": 400, "padding": 0, "offset": 0}
}
}
